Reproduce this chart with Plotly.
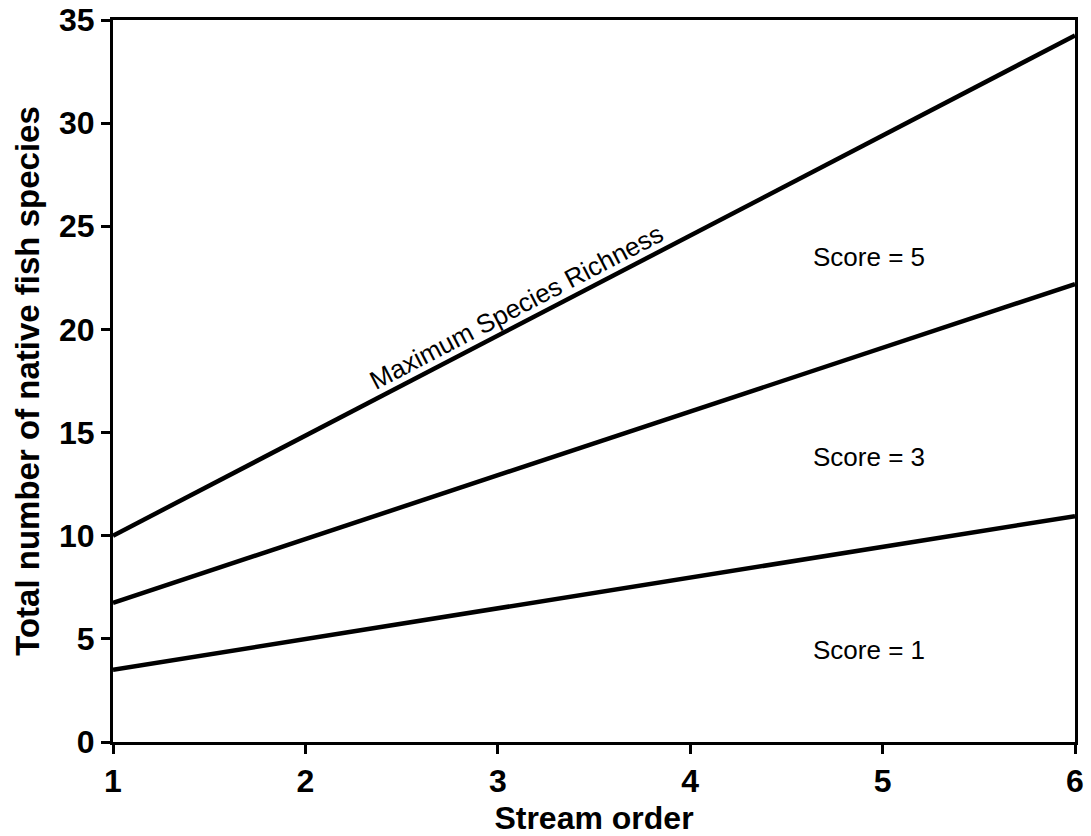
import plotly.graph_objects as go

stream_order = [1, 2, 3, 4, 5, 6]
max_richness = [10.0, 14.85, 19.7, 24.5, 29.4, 34.25]
score3_line = [6.75, 9.85, 12.95, 16.0, 19.1, 22.2]
score1_line = [3.5, 5.0, 6.5, 7.95, 9.45, 10.95]

x_ticks = [1, 2, 3, 4, 5, 6]
y_ticks = [0, 5, 10, 15, 20, 25, 30, 35]

labels_text = ["Score = 5", "Score = 3", "Score = 1"]
labels_x = [4.93, 4.93, 4.93]
labels_y = [23.5, 13.8, 4.45]

fig = go.Figure()
for ys in (max_richness, score3_line, score1_line):
    fig.add_trace(go.Scatter(x=stream_order, y=ys, mode="lines",
                             line=dict(color="black", width=4.5),
                             showlegend=False, hoverinfo="skip"))

font = "Liberation Sans, Arial, Helvetica, sans-serif"

fig.add_annotation(x=3.095, y=21.1, text="Maximum Species Richness",
                   showarrow=False, textangle=-27.5,
                   font=dict(family=font, size=26, color="black"))
for t, xx, yy in zip(labels_text, labels_x, labels_y):
    fig.add_annotation(x=xx, y=yy, text=t, showarrow=False,
                       font=dict(family=font, size=26, color="black"))

axis_common = dict(showline=True, linecolor="black", linewidth=3, mirror=True,
                   ticks="outside", ticklen=9, tickwidth=3, tickcolor="black",
                   showgrid=False, zeroline=False, automargin=False,
                   ticklabeloverflow="allow",
                   tickfont=dict(family=font, size=32, color="black", weight="bold"))

fig.update_xaxes(range=[1, 6], tickvals=x_ticks,
                 title=dict(text="Stream order", standoff=12,
                            font=dict(family=font, size=32, color="black", weight="bold")),
                 **axis_common)
fig.update_yaxes(range=[0, 35], tickvals=y_ticks,
                 title=dict(text="Total number of native fish species", standoff=10,
                            font=dict(family=font, size=33, color="black", weight="bold")),
                 **axis_common)

fig.update_layout(width=1091, height=836,
                  margin=dict(l=113, r=16, t=20, b=94),
                  plot_bgcolor="white", paper_bgcolor="white")

# remove the page's default body margin so the figure fills the window exactly
fig.write_html("out.html",
               config={"displayModeBar": False},
               post_script="document.body.style.margin='0';document.body.style.overflow='hidden';")
